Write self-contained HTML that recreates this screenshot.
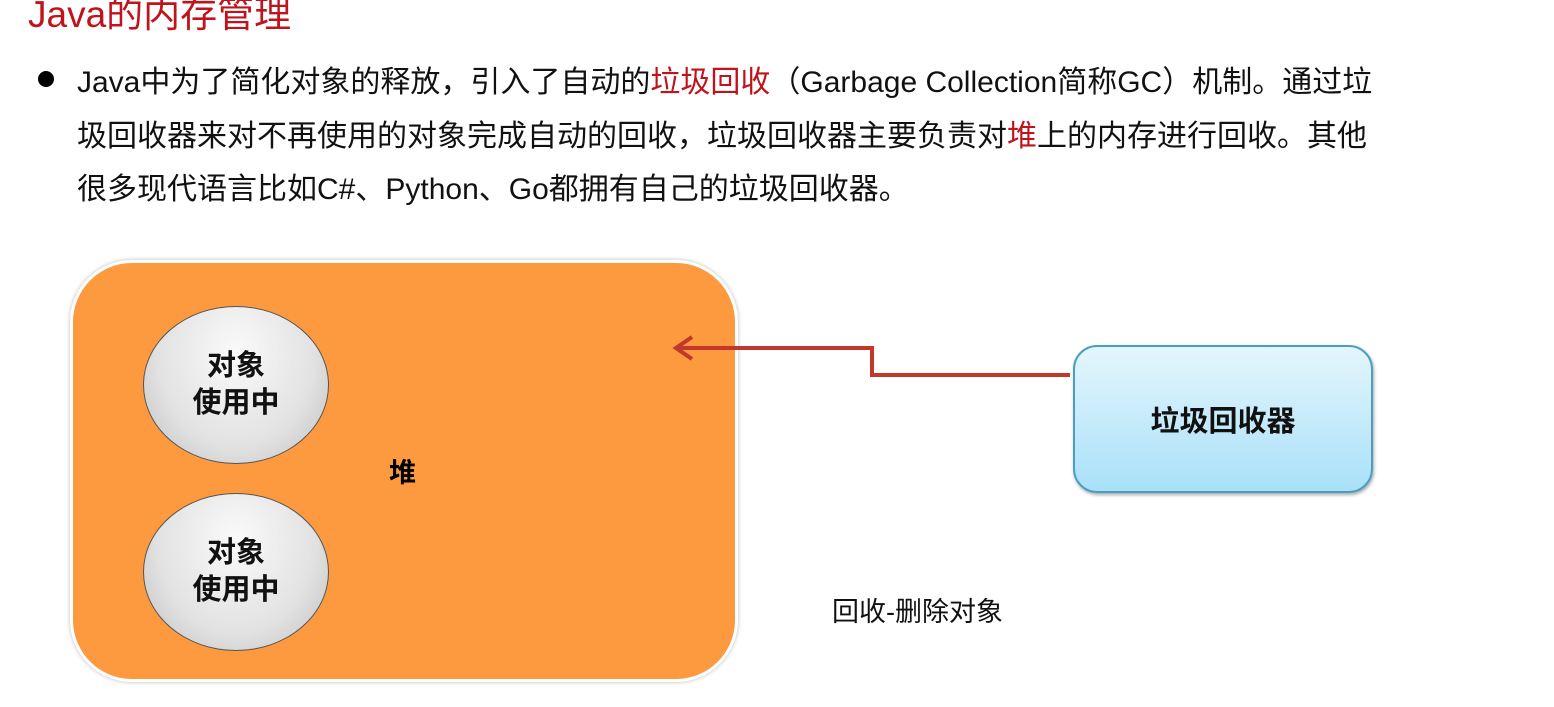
<!DOCTYPE html>
<html><head><meta charset="utf-8"><style>
body{margin:0;width:1554px;height:707px;background:#fff;position:relative;overflow:hidden;font-family:"Liberation Sans","Noto Sans CJK SC",sans-serif}
.t{position:absolute;white-space:nowrap}
.r{color:#c0141c}
.ell{position:absolute;width:186px;height:158px;border-radius:50%;border:1.5px solid #555;background:radial-gradient(ellipse at 50% 30%,#fafafa 0%,#e2e2e2 60%,#bdbdbd 100%);box-sizing:border-box;display:flex;align-items:center;justify-content:center;text-align:center;font-weight:bold;font-size:29px;line-height:37px;color:#111}
</style></head><body>
<div class="t r" style="left:28px;top:-16px;font-size:37px">Java的内存管理</div>
<div style="position:absolute;left:38px;top:71px;width:16px;height:16px;border-radius:50%;background:#000"></div>
<div class="t" style="left:77px;top:56px;font-size:30px;line-height:53.5px;color:#111">Java中为了简化对象的释放，引入了自动的<span class="r">垃圾回收</span>（Garbage Collection简称GC）机制。通过垃<br>圾回收器来对不再使用的对象完成自动的回收，垃圾回收器主要负责对<span class="r">堆</span>上的内存进行回收。其他<br>很多现代语言比如C#、Python、Go都拥有自己的垃圾回收器。</div>
<div style="position:absolute;left:70px;top:260px;width:668px;height:422px;border-radius:62px;background:#fd9a40;border:3px solid #fff;box-shadow:0 0 4px #bbb;box-sizing:border-box"></div>
<div class="ell" style="left:143px;top:306px">对象<br>使用中</div>
<div class="ell" style="left:143px;top:493px">对象<br>使用中</div>
<div class="t" style="left:389px;top:451px;font-size:27px;font-weight:bold">堆</div>
<div style="position:absolute;left:1073px;top:345px;width:300px;height:148px;border-radius:24px;border:2px solid #4a9ec4;background:linear-gradient(#e4f6fd,#a9e0f8);box-sizing:border-box;box-shadow:1px 2px 3px #aaa;display:flex;align-items:center;justify-content:center;font-weight:bold;font-size:29px;color:#111">垃圾回收器</div>
<svg style="position:absolute;left:0;top:0" width="1554" height="707">
<polyline points="1070,375 872,375 872,348 676,348" fill="none" stroke="#c0392b" stroke-width="4"/>
<polyline points="692,337 676,348 692,359" fill="none" stroke="#c0392b" stroke-width="4"/>
</svg>
<div class="t" style="left:832px;top:590px;font-size:27px;color:#111">回收-删除对象</div>
</body></html>
